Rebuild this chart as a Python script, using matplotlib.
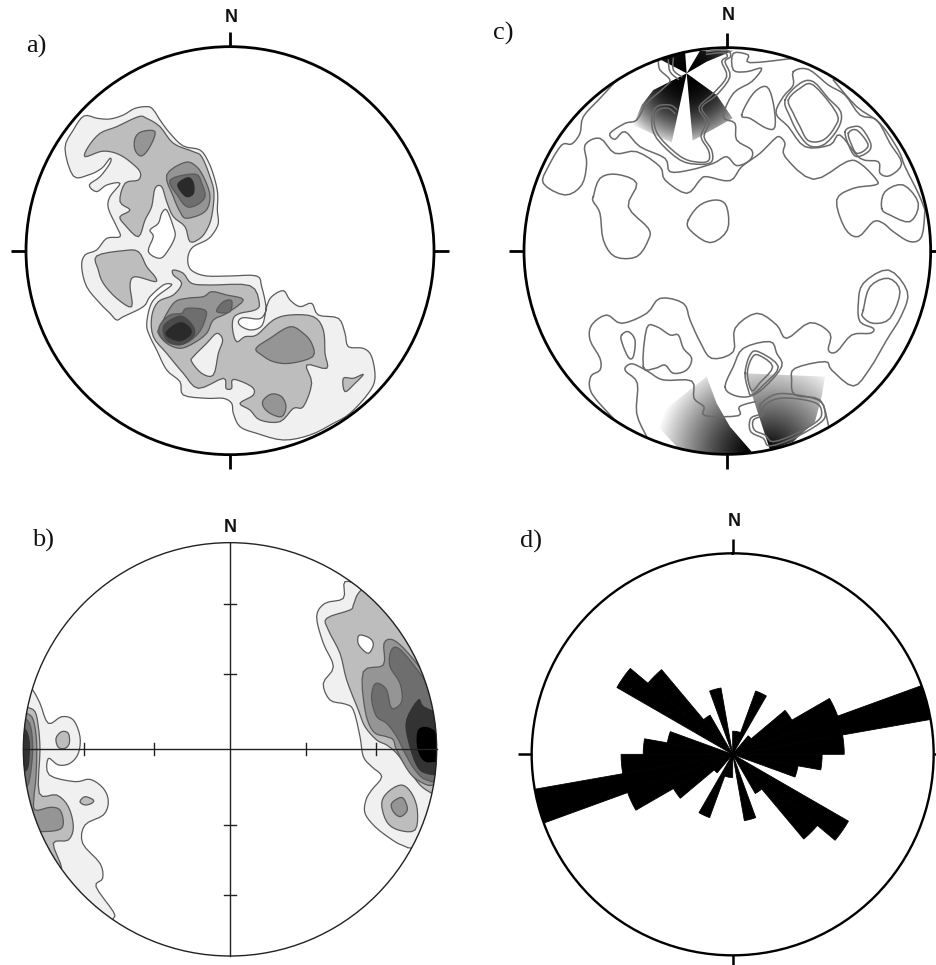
import numpy as np
import matplotlib
matplotlib.use("Agg")
import matplotlib.pyplot as plt
from matplotlib.patches import Circle, Polygon
from matplotlib.colors import to_rgb

W, H = 936, 965
GRAYS = ["#f0f0f0", "#bdbdbd", "#959595", "#6e6e6e", "#3c3c3c", "#000000"]

# ---- panel a: density contours (level, outline)
A_L1 = [(222,288),(262,295),(300,297),(340,285),(375,265),(415,260),(432,272),(450,300),(480,340),(520,378),(570,390),(595,425),(612,470),(623,520),(622,570),(625,610),(610,640),(590,660),(550,680),(535,705),(535,735),(550,755),(590,768),(660,768),(740,768),(755,800),(768,860),(762,885),(745,897),(700,893),(685,905),(695,920),(725,930),(757,915),(770,860),(785,830),(820,812),(840,840),(870,860),(905,850),(925,885),(985,895),(1005,940),(1015,980),(1060,985),(1085,1010),(1095,1075),(1075,1120),(1020,1180),(970,1210),(900,1245),(820,1260),(740,1240),(690,1220),(670,1180),(665,1150),(640,1135),(590,1135),(520,1125),(510,1085),(470,1050),(440,990),(420,950),(410,915),(420,860),(440,830),(480,800),(483,792),(460,795),(420,830),(400,860),(340,890),(320,900),(300,880),(270,850),(230,800),(215,740),(225,705),(260,690),(290,655),(330,650),(320,620),(295,565),(300,530),(330,490),(290,495),(260,515),(238,495),(270,470),(300,430),(300,415),(275,445),(235,465),(190,468),(165,385),(190,330)]
A_HOLE_WHITE = [(470,570),(490,620),(495,650),(475,690),(450,715),(415,695),(430,650),(420,630),(445,610),(455,580)]
A_L2_TOP = [(225,410),(235,380),(270,340),(320,320),(385,290),(410,295),(450,320),(490,370),(550,395),(575,410),(600,470),(612,520),(605,590),(590,630),(570,655),(540,665),(525,620),(490,590),(470,545),(455,500),(435,505),(425,560),(405,600),(385,650),(345,615),(330,590),(360,570),(330,545),(345,490),(385,480),(390,455),(360,425),(330,405),(300,395),(270,395)]
A_L3_TOP = [(375,355),(395,335),(435,335),(420,380),(395,408),(375,390)]
A_L3_PEAK = [(470,465),(525,427),(560,440),(585,480),(600,530),(585,575),(530,595),(510,575),(490,530)]
A_L4_PEAK = [(480,480),(555,462),(575,490),(585,530),(560,555),(530,560),(505,530)]
A_L5_PEAK = [(505,490),(535,473),(550,490),(550,520),(530,530),(510,510)]
A_L2_WEST = [(260,708),(340,692),(385,695),(410,740),(435,770),(435,785),(375,770),(360,795),(365,860),(320,835),(280,790),(265,750)]
A_L2_MAIN = [(490,750),(520,760),(545,790),(600,795),(720,797),(748,850),(735,870),(690,880),(670,895),(668,930),(680,965),(705,950),(740,945),(790,900),(840,885),(910,890),(940,930),(945,1000),(950,1045),(890,1035),(905,1090),(880,1160),(850,1165),(810,1205),(750,1200),(720,1170),(690,1150),(730,1125),(725,1100),(670,1078),(665,1105),(648,1105),(640,1075),(565,1105),(520,1060),(470,1000),(430,950),(425,890),(445,845),(490,825),(515,790),(490,765)]
A_HOLE_LIGHT = [(550,1010),(590,970),(620,940),(638,960),(625,1000),(610,1065),(575,1060),(545,1025)]
A_L3_MAIN = [(450,920),(490,850),(530,835),(580,830),(605,815),(650,825),(700,840),(650,880),(610,900),(590,940),(550,970),(510,985),(470,970),(445,940)]
A_L3_EAST = [(738,985),(780,955),(840,920),(880,940),(905,970),(908,1010),(840,1030),(790,1025),(755,1005)]
A_L3_SOUTH = [(760,1140),(785,1122),(815,1130),(828,1160),(815,1190),(780,1180),(760,1160)]
A_L2_SMALL = [(1000,1075),(1030,1075),(1060,1063),(1035,1090),(1005,1115)]
A_L4_SMALL = [(620,870),(640,845),(665,842),(660,875),(630,878)]
A_L4_MAIN = [(450,915),(480,885),(515,880),(530,865),(585,870),(585,900),(565,940),(525,970),(480,970),(450,945)]
A_L5_MAIN = [(460,920),(490,895),(520,890),(550,920),(550,950),(510,975),(470,960)]
A_L6_MAIN = [(470,935),(510,908),(540,925),(540,945),(510,962),(478,952)]

# ---- panel b
B_L1_E = [(1005,215),(1060,235),(1140,300),(1210,385),(1260,470),(1300,560),(1320,640),(1320,760),(1310,830),(1270,940),(1215,1010),(1175,1005),(1140,985),(1095,950),(1065,910),(1068,870),(1085,840),(1115,800),(1085,770),(1060,740),(1050,680),(1030,600),(1005,582),(960,570),(940,520),(970,470),(940,400),(920,320),(945,280),(1000,265)]
B_L2_E = [(1045,250),(1075,240),(1160,320),(1220,400),(1270,490),(1310,580),(1320,700),(1315,800),(1280,860),(1265,850),(1230,825),(1190,770),(1160,730),(1130,705),(1100,690),(1065,650),(1045,600),(1010,510),(990,430),(955,360),(950,325),(1020,300),(1030,285)]
B_HOLE = [(1050,375),(1080,385),(1090,405),(1075,430),(1050,410),(1043,390)]
B_L3_E = [(1060,485),(1120,465),(1122,400),(1150,390),(1195,430),(1250,505),(1300,620),(1310,800),(1270,825),(1240,820),(1200,790),(1160,720),(1150,690),(1130,680),(1090,665),(1065,600)]
B_L4_E = [(1090,530),(1105,520),(1130,540),(1145,595),(1175,575),(1170,520),(1140,470),(1142,425),(1160,412),(1195,445),(1255,530),(1300,640),(1310,805),(1250,810),(1215,780),(1185,730),(1160,680),(1130,640),(1100,620),(1085,570)]
B_L5_E = [(1190,630),(1225,570),(1240,590),(1300,625),(1310,700),(1300,785),(1250,790),(1220,765),(1195,690)]
B_L6_E = [(1225,662),(1258,655),(1300,690),(1300,740),(1250,755),(1225,720)]
B_L2_SE = [(1115,880),(1135,845),(1175,825),(1205,850),(1222,900),(1215,960),(1165,960),(1130,935)]
B_L3_SE = [(1145,880),(1175,862),(1190,885),(1190,905),(1170,920),(1150,905)]
B_L1_W = [(50,530),(68,540),(90,580),(115,640),(155,620),(190,630),(210,680),(205,730),(180,760),(145,765),(115,745),(118,795),(195,815),(240,808),(280,835),(295,875),(280,915),(225,945),(218,1000),(270,1060),(278,1105),(258,1130),(310,1205),(310,1225),(290,1240),(200,1160),(110,1060),(50,950),(10,850),(0,720),(10,620)]
B_L2_W = [(20,590),(50,592),(75,605),(85,650),(90,720),(88,850),(140,855),(175,890),(190,950),(175,990),(130,1000),(155,1075),(120,1075),(60,900),(10,780),(0,720),(10,640)]
B_L3_W = [(20,600),(50,610),(70,630),(80,700),(78,800),(72,860),(75,900),(120,892),(150,900),(160,940),(145,960),(90,965),(60,960),(20,790),(0,720)]
B_L4_W = [(20,620),(45,625),(62,650),(68,720),(60,800),(48,830),(20,800),(0,720)]
B_L5_W = [(10,650),(42,655),(55,680),(58,720),(50,780),(15,770),(0,720)]
B_L2_S1 = [(138,685),(155,665),(175,670),(178,700),(165,715),(145,712)]
B_L2_S2 = [(210,875),(225,860),(250,870),(245,880),(225,885)]
B_X_TICKS = [221, 433, 887, 1097]
B_Y_TICKS = [282, 492, 945, 1155]

# ---- panel c: open and closed contour lines
C_OPEN = [
 [(355,175),(300,235),(250,290),(240,340),(215,372),(185,375),(145,440),(130,490),(195,525),(245,495),(260,430),(255,375),(300,355),(345,400),(410,395),(480,440),(495,480),(560,520),(600,480),(620,470),(690,482),(725,440),(780,400),(820,360),(838,350),(855,370),(855,410),(940,478),(1040,425),(1080,430),(1130,480),(1125,495),(1060,505),(1010,540),(1035,625),(1075,650),(1120,605),(1150,610),(1180,635),(1230,665),(1265,650),(1275,570)],
 [(475,125),(480,150),(510,180),(490,205),(440,250),(410,300),(375,310),(330,340),(345,358),(375,335),(420,380),(495,415),(510,455),(570,450),(640,430),(680,410),(710,437),(750,420),(755,390),(710,360),(705,310),(670,290),(700,220),(755,185),(785,145),(740,155),(700,150),(700,100),(745,105),(750,128),(880,115)],
 [(530,268),(510,255),(470,260),(455,300),(470,355),(540,420),(600,433),(635,425),(635,390),(612,350),(628,305),(605,262),(650,225),(690,170),(675,125),(692,110),(680,90),(620,95)],
 [(525,280),(505,265),(475,270),(462,300),(478,350),(545,412),(600,427),(627,420),(625,390),(603,350),(618,305),(597,262),(640,220),(680,170),(665,125),(682,110),(670,98),(620,103)],
 [(505,120),(510,155),(535,178)],
 [(520,115),(520,150),(545,170)],
 [(1000,180),(1070,260),(1140,310),(1195,390),(1215,440),(1255,520),(1275,570)],
 [(340,1195),(275,1120),(272,1070),(300,1050),(300,1015),(270,960),(275,915),(320,885),(365,910),(440,880),(480,835),(550,850),(570,900),(600,965),(635,1015),(700,995),(705,925),(770,880),(830,915),(860,955),(930,908),(990,940),(985,990),(1010,995),(1055,945),(1110,940),(1120,925),(1080,905),(1075,850),(1090,790),(1165,750),(1222,815),(1205,885),(1160,960),(1110,1045),(1060,1098),(995,1050),(975,1025),(885,1045),(875,1080),(885,1125),(960,1140),(985,1215)],
 [(440,1250),(410,1180),(412,1090),(378,1055),(378,1040),(400,1032),(445,1055),(490,1080),(575,1083),(582,1135),(612,1160),(615,1187),(715,1187),(718,1160),(765,1145)],
]
C_CLOSED = [
 [(880,155),(925,148),(985,195),(1035,225),(1080,285),(1130,300),(1170,370),(1205,430),(1170,467),(1140,460),(1135,425),(1080,415),(1020,345),(990,375),(915,380),(865,320),(828,280),(850,230),(880,195)],
 [(855,240),(900,190),(940,185),(985,235),(1022,275),(1017,320),(975,372),(930,378),(895,340),(870,290)],
 [(865,240),(900,205),(940,195),(1010,280),(1005,320),(970,360),(925,362),(900,320),(880,280)],
 [(1035,335),(1060,320),(1085,325),(1112,370),(1105,395),(1070,410),(1050,385)],
 [(1045,340),(1070,330),(1103,370),(1095,390),(1070,400),(1055,375)],
 [(725,285),(760,220),(800,200),(820,250),(825,320),(800,325),(750,295)],
 [(280,530),(300,475),(350,463),(410,490),(385,560),(445,625),(445,660),(410,710),(345,710),(310,660),(300,580),(280,545)],
 [(565,600),(600,555),(650,540),(680,560),(682,630),(630,668),(570,630)],
 [(1145,565),(1155,515),(1210,495),(1255,550),(1230,605),(1170,585)],
 [(1090,870),(1110,800),(1165,775),(1200,815),(1170,895),(1120,910),(1088,890)],
 [(430,1040),(440,925),(470,920),(510,945),(535,945),(550,985),(575,1015),(560,1050),(520,1060),(495,1035),(465,1045)],
 [(365,945),(385,935),(405,960),(400,1010),(385,1012),(365,965)],
 [(675,1100),(700,1125),(745,1130),(790,1105),(845,1040),(830,1000),(810,965),(730,985),(700,1040)],
 [(735,1060),(750,1005),(775,995),(835,1040),(790,1095),(755,1125),(745,1110)],
 [(742,1060),(755,1015),(775,1005),(818,1040),(780,1088),(755,1112)],
 [(780,1155),(820,1125),(870,1122),(955,1140),(975,1175),(965,1205),(890,1250),(810,1278),(790,1255),(752,1235),(752,1195),(785,1180)],
 [(790,1160),(825,1138),(880,1135),(950,1150),(965,1180),(950,1205),(890,1240),(820,1265),(795,1245),(763,1230),(760,1200),(790,1185)],
]
# gradient fans: apex, fading radius, fade exponent, clip outline
C_FANS = [
 ((560,160), 225, 2.5, [(560,160),(460,210),(425,255),(400,315),(515,368)]),
 ((560,160), 225, 2.5, [(560,160),(578,362),(698,295),(650,225)]),
 ((560,160), 225, 2.5, [(560,160),(480,118),(555,92)]),
 ((560,160), 225, 2.5, [(560,160),(600,92),(700,92),(620,125)]),
 ((755,1295), 290, 1.3, [(620,1070),(650,1150),(690,1220),(755,1295),(700,1305),(540,1290),(455,1200)]),
 ((810,1290), 290, 1.0, [(810,1290),(735,1060),(975,1070),(965,1130),(945,1205),(880,1265)]),
]

# ---- panel d: rose diagram, relative length of each 10 degree sector from 0 to 170
ROSE_START = list(range(0, 180, 10))
ROSE_LENGTH = [.115,.115,.335,0,.12,.34,.556,1.0,.555,.445,.33,0,.665,.55,.225,0,.335,0]

# ---- texts
PANEL_LABELS = [("a)",36,46),("c)",503,33),("b)",43,540),("d)",531,541)]
NORTH_LABELS = [(231,17),(728,16),(230,527),(734,522)]

plt.rcParams["font.family"] = "Liberation Sans"
fig = plt.figure(figsize=(W/100, H/100), dpi=100, facecolor="white")


def crop_axes(x, y, w, h):
    ax = fig.add_axes([x/W, 1-(y+h)/H, w/W, h/H])
    ax.set_xlim(0, w*3)
    ax.set_ylim(h*3, 0)
    ax.axis("off")
    return ax


def smooth(pts, closed=True, steps=4):
    """Catmull-Rom curve through the read points."""
    p = np.asarray(pts, float)
    if closed:
        q = np.vstack([p[-1], p, p[0], p[1]])
    else:
        q = np.vstack([p[0], p, p[-1]])
    t = np.linspace(0, 1, steps, endpoint=False)[:, None]
    out = []
    for i in range(1, len(q)-2):
        a, b, c, d = q[i-1], q[i], q[i+1], q[i+2]
        out.append(.5*((2*b)+(c-a)*t+(2*a-5*b+4*c-d)*t**2+(3*b-a-3*c+d)*t**3))
    out = np.vstack(out)
    return out if closed else np.vstack([out, p[-1]])


def fill_layers(ax, layers, clip, edge="#5a5a5a"):
    for colour, pts in layers:
        line = colour if to_rgb(colour)[0] < to_rgb(edge)[0] else edge
        patch = Polygon(smooth(pts), closed=True, fc=colour, ec=line, lw=.9, zorder=2)
        ax.add_patch(patch)
        patch.set_clip_path(clip)


def rim_ticks(ax, cx, cy, r, length, lw):
    for dx, dy in [(0,-1),(0,1),(-1,0),(1,0)]:
        ax.plot([cx+dx*r, cx+dx*(r+length)], [cy+dy*r, cy+dy*(r+length)],
                color="black", lw=lw, solid_capstyle="butt", zorder=4)


# panel a
ax = crop_axes(10, 20, 440, 450)
cx, cy, r = 660, 692, 612
clip = Circle((cx, cy), r, transform=ax.transData)
g = GRAYS
fill_layers(ax, [(g[0],A_L1),("white",A_HOLE_WHITE),(g[1],A_L2_TOP),(g[2],A_L3_TOP),(g[2],A_L3_PEAK),
                 (g[3],A_L4_PEAK),("#2a2a2a",A_L5_PEAK),(g[1],A_L2_WEST),(g[1],A_L2_MAIN),(g[0],A_HOLE_LIGHT),
                 (g[2],A_L3_MAIN),(g[2],A_L3_EAST),(g[2],A_L3_SOUTH),(g[1],A_L2_SMALL),(g[3],A_L4_SMALL),
                 (g[3],A_L4_MAIN),("#4a4a4a",A_L5_MAIN),("#2a2a2a",A_L6_MAIN)], clip)
ax.add_patch(Circle((cx, cy), r, fc="none", ec="black", lw=2.0, zorder=3))
rim_ticks(ax, cx, cy, r, 44, 2.0)

# panel c
ax = crop_axes(500, 20, 436, 450)
cx, cy, r = 682, 693, 610
clip = Circle((cx, cy), r, transform=ax.transData)
for apex, radius, power, outline in C_FANS:
    xs = np.arange(0, 1308, 2.0)
    ys = np.arange(0, 1350, 2.0)
    X, Y = np.meshgrid(xs, ys)
    D = np.hypot(X-apex[0], Y-apex[1])
    rgba = np.zeros(D.shape+(4,))
    rgba[..., 3] = np.clip(1-(D/radius)**power, 0, 1)
    im = ax.imshow(rgba, extent=(0, 1308, 1350, 0), aspect="auto", interpolation="bilinear", zorder=1)
    im.set_clip_path(Polygon(outline, closed=True, transform=ax.transData))
ax.set_xlim(0, 1308)
ax.set_ylim(1350, 0)
for pts in C_OPEN:
    p = smooth(pts, closed=False)
    ln, = ax.plot(p[:, 0], p[:, 1], color="#6a6a6a", lw=1.1, zorder=2)
    ln.set_clip_path(clip)
for pts in C_CLOSED:
    p = smooth(pts)
    ln, = ax.plot(np.r_[p[:, 0], p[0, 0]], np.r_[p[:, 1], p[0, 1]], color="#6a6a6a", lw=1.1, zorder=2)
    ln.set_clip_path(clip)
ax.add_patch(Circle((cx, cy), r, fc="none", ec="black", lw=2.0, zorder=3))
rim_ticks(ax, cx, cy, r, 44, 2.0)

# panel b
ax = crop_axes(10, 510, 440, 450)
cx, cy, r = 660, 718, 620
clip = Circle((cx, cy), r, transform=ax.transData)
fill_layers(ax, [(g[0],B_L1_E),(g[1],B_L2_E),("white",B_HOLE),(g[2],B_L3_E),(g[3],B_L4_E),("#333333",B_L5_E),(g[5],B_L6_E),
                 (g[1],B_L2_SE),(g[2],B_L3_SE),(g[0],B_L1_W),(g[1],B_L2_W),(g[2],B_L3_W),(g[3],B_L4_W),("#333333",B_L5_W),
                 (g[1],B_L2_S1),(g[1],B_L2_S2)], clip)
ax.add_patch(Circle((cx, cy), r, fc="none", ec="#222222", lw=1.0, zorder=3))
ax.plot([cx-r, cx+r], [cy, cy], color="#222222", lw=1.0, zorder=4)
ax.plot([cx, cx], [cy-r, cy+r], color="#222222", lw=1.0, zorder=4)
for t in B_X_TICKS:
    ax.plot([t, t], [cy-18, cy+18], color="#222222", lw=1.0, zorder=4)
for t in B_Y_TICKS:
    ax.plot([cx-18, cx+18], [t, t], color="#222222", lw=1.0, zorder=4)

# panel d
cx_px, cy_px, r_px = 510+668/3, 510+733/3, 603/3
ax = fig.add_axes([(cx_px-r_px)/W, 1-(cy_px+r_px)/H, 2*r_px/W, 2*r_px/H], projection="polar")
ax.set_theta_zero_location("N")
ax.set_theta_direction(-1)
starts = np.radians(np.r_[ROSE_START, np.array(ROSE_START)+180])
lengths = np.r_[ROSE_LENGTH, ROSE_LENGTH]
keep = lengths > 0
ax.bar(starts[keep], lengths[keep], width=np.radians(10), align="edge", color="black", ec="black", lw=.6)
ax.set_ylim(0, 1)
ax.set_xticks([])
ax.set_yticks([])
ax.grid(False)
ax.spines["polar"].set_linewidth(1.7)
for a in np.radians([0, 90, 180, 270]):
    ax.plot([a, a], [1, 1.07], color="black", lw=1.8, clip_on=False, solid_capstyle="butt")

for s, x, y in PANEL_LABELS:
    fig.text(x/W, 1-y/H, s, family="Liberation Serif", fontsize=19, ha="center", va="center", color="#111111")
for x, y in NORTH_LABELS:
    fig.text(x/W, 1-y/H, "N", fontsize=13, fontweight="bold", ha="center", va="center", color="#111111")

fig.savefig("out.png", dpi=100)
